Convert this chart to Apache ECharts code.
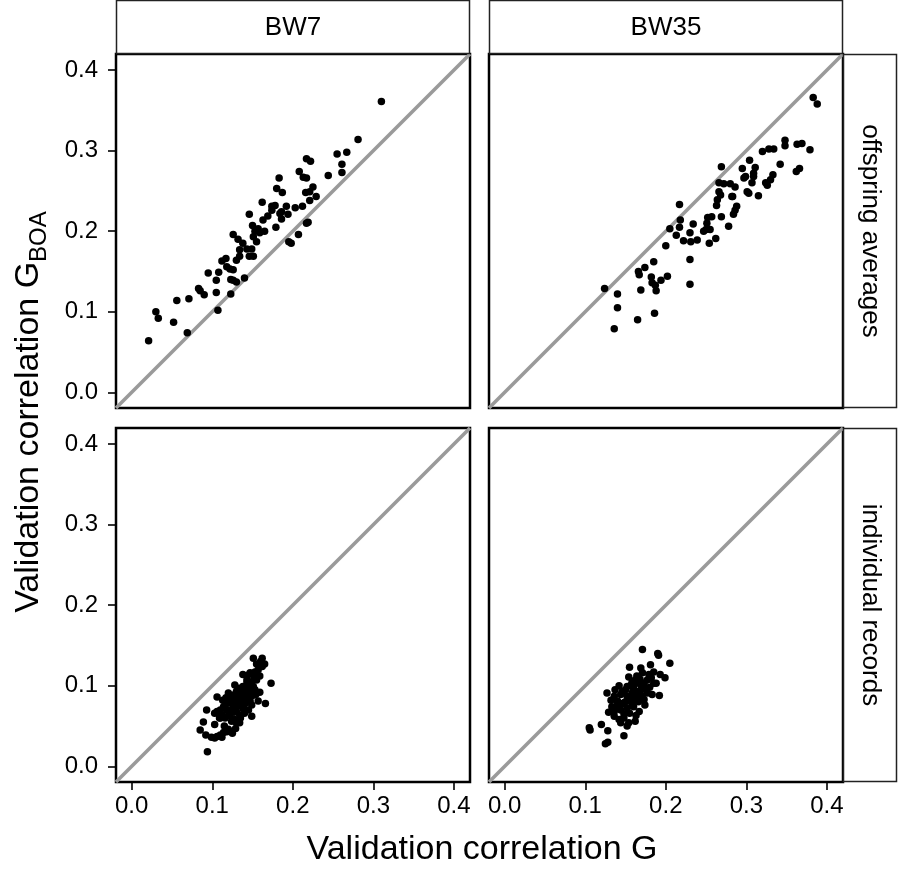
<!DOCTYPE html>
<html><head><meta charset="utf-8">
<script src="https://cdn.jsdelivr.net/npm/echarts@6/dist/echarts.min.js"></script>
<style>html,body{margin:0;padding:0;background:#fff}#c{width:898px;height:870px}</style>
</head><body><div id="c"></div><script>
// ---- data ----
const columnLabels = ['BW7', 'BW35'];
const rowLabels = ['offspring averages', 'individual records'];
const tickValues = [0.0, 0.1, 0.2, 0.3, 0.4];
const axisMin = -0.0195, axisMax = 0.42;
const xTitle = 'Validation correlation G';
const yTitleMain = 'Validation correlation G';
const yTitleSub = 'BOA';

const bw7Offspring = [
[0.310,0.361],[0.281,0.314],[0.255,0.296],[0.267,0.298],[0.261,0.283],[0.261,0.273],[0.244,0.269],
[0.217,0.290],[0.222,0.287],[0.208,0.274],[0.213,0.267],[0.217,0.266],[0.183,0.266],[0.180,0.253],
[0.187,0.248],[0.225,0.255],[0.216,0.248],[0.221,0.249],[0.229,0.243],[0.221,0.238],[0.203,0.229],
[0.212,0.231],[0.162,0.236],[0.174,0.231],[0.178,0.232],[0.192,0.231],[0.186,0.224],[0.194,0.221],
[0.146,0.221],[0.169,0.219],[0.163,0.214],[0.186,0.215],[0.179,0.205],[0.150,0.207],[0.157,0.203],
[0.153,0.200],[0.165,0.200],[0.159,0.198],[0.151,0.193],[0.155,0.187],[0.126,0.196],[0.132,0.190],
[0.138,0.185],[0.134,0.177],[0.143,0.178],[0.149,0.178],[0.146,0.169],[0.151,0.169],[0.134,0.169],
[0.130,0.164],[0.117,0.166],[0.112,0.163],[0.118,0.156],[0.122,0.153],[0.126,0.152],[0.108,0.149],
[0.095,0.148],[0.105,0.139],[0.123,0.140],[0.126,0.139],[0.130,0.137],[0.140,0.142],[0.083,0.129],
[0.085,0.126],[0.090,0.121],[0.105,0.124],[0.123,0.122],[0.071,0.116],[0.056,0.114],[0.107,0.102],
[0.030,0.100],[0.033,0.092],[0.052,0.087],[0.069,0.074],[0.021,0.064],[0.195,0.187],[0.198,0.185],
[0.207,0.196],[0.217,0.210],[0.219,0.211],[0.174,0.226],[0.184,0.222]
];
const bw35Offspring = [
[0.383,0.366],[0.388,0.358],[0.348,0.313],[0.348,0.306],[0.363,0.308],[0.369,0.309],[0.379,0.301],
[0.334,0.302],[0.328,0.302],[0.320,0.299],[0.342,0.283],[0.366,0.278],[0.362,0.274],[0.304,0.288],
[0.311,0.279],[0.295,0.278],[0.269,0.280],[0.299,0.268],[0.309,0.268],[0.307,0.260],[0.333,0.270],
[0.330,0.264],[0.324,0.260],[0.326,0.257],[0.315,0.244],[0.301,0.249],[0.303,0.247],[0.266,0.260],
[0.272,0.259],[0.280,0.259],[0.286,0.255],[0.283,0.243],[0.268,0.245],[0.264,0.239],[0.263,0.232],
[0.288,0.231],[0.286,0.226],[0.284,0.221],[0.269,0.218],[0.257,0.218],[0.252,0.217],[0.217,0.233],
[0.218,0.214],[0.205,0.203],[0.217,0.205],[0.213,0.195],[0.234,0.209],[0.230,0.198],[0.222,0.188],
[0.231,0.187],[0.239,0.189],[0.247,0.200],[0.255,0.202],[0.262,0.191],[0.254,0.185],[0.278,0.206],
[0.200,0.182],[0.230,0.165],[0.185,0.162],[0.174,0.155],[0.166,0.150],[0.167,0.146],[0.182,0.143],
[0.202,0.144],[0.194,0.139],[0.183,0.136],[0.187,0.133],[0.188,0.126],[0.169,0.127],[0.124,0.129],
[0.140,0.122],[0.230,0.134],[0.140,0.105],[0.186,0.098],[0.165,0.090],[0.136,0.079],[0.251,0.210],
[0.250,0.202],[0.266,0.249],[0.309,0.272],[0.297,0.266],[0.282,0.243]
];
const bw7Individual = [
[0.094,0.018],[0.085,0.045],[0.089,0.055],[0.093,0.070],[0.092,0.039],[0.099,0.036],[0.103,0.035],
[0.106,0.037],[0.110,0.039],[0.114,0.042],[0.118,0.043],[0.125,0.041],[0.103,0.052],[0.106,0.068],
[0.109,0.060],[0.112,0.064],[0.116,0.060],[0.118,0.070],[0.122,0.070],[0.124,0.056],[0.128,0.058],
[0.130,0.054],[0.134,0.054],[0.103,0.066],[0.106,0.086],[0.117,0.085],[0.121,0.083],[0.124,0.079],
[0.128,0.089],[0.130,0.093],[0.128,0.101],[0.132,0.097],[0.134,0.087],[0.136,0.079],[0.138,0.072],
[0.140,0.083],[0.138,0.091],[0.143,0.095],[0.145,0.087],[0.147,0.081],[0.149,0.076],[0.149,0.062],
[0.151,0.099],[0.154,0.089],[0.157,0.081],[0.153,0.095],[0.143,0.107],[0.138,0.114],[0.147,0.116],
[0.153,0.117],[0.159,0.112],[0.151,0.134],[0.162,0.134],[0.165,0.127],[0.162,0.124],[0.173,0.103],
[0.159,0.092],[0.166,0.078],[0.145,0.070],[0.140,0.066],[0.134,0.064],[0.130,0.068],[0.126,0.074],
[0.122,0.064],[0.114,0.074],[0.110,0.070],[0.155,0.127],[0.149,0.105],[0.143,0.103],[0.133,0.078],
[0.120,0.091],[0.126,0.085],[0.134,0.083],[0.145,0.099],[0.138,0.099],[0.155,0.107],[0.130,0.079],
[0.118,0.078],[0.113,0.082],[0.110,0.060],[0.115,0.050],[0.120,0.063],[0.127,0.067],[0.131,0.075],
[0.136,0.090],[0.142,0.092],[0.146,0.094],[0.150,0.088],[0.152,0.110],[0.144,0.113],[0.157,0.120],
[0.160,0.130],[0.141,0.078],[0.135,0.060],[0.129,0.047],[0.120,0.046],[0.112,0.036]
];
const bw35Individual = [
[0.171,0.145],[0.190,0.140],[0.191,0.138],[0.205,0.128],[0.181,0.126],[0.155,0.123],[0.169,0.122],
[0.185,0.117],[0.193,0.114],[0.199,0.110],[0.154,0.111],[0.164,0.112],[0.177,0.107],[0.173,0.103],
[0.185,0.103],[0.142,0.100],[0.152,0.099],[0.160,0.097],[0.169,0.095],[0.177,0.091],[0.183,0.089],
[0.192,0.088],[0.127,0.091],[0.136,0.087],[0.144,0.089],[0.152,0.087],[0.160,0.085],[0.173,0.083],
[0.133,0.074],[0.129,0.067],[0.136,0.068],[0.144,0.070],[0.152,0.072],[0.160,0.074],[0.167,0.068],
[0.142,0.058],[0.148,0.060],[0.154,0.054],[0.162,0.056],[0.144,0.054],[0.105,0.048],[0.106,0.045],
[0.120,0.052],[0.128,0.044],[0.148,0.038],[0.125,0.028],[0.128,0.030],[0.156,0.081],[0.148,0.079],
[0.140,0.081],[0.164,0.103],[0.162,0.107],[0.158,0.091],[0.171,0.116],[0.179,0.114],[0.136,0.062],
[0.150,0.095],[0.156,0.100],[0.163,0.093],[0.170,0.100],[0.175,0.097],[0.166,0.085],[0.158,0.078],
[0.150,0.080],[0.145,0.077],[0.139,0.075],[0.155,0.066],[0.163,0.063],[0.148,0.065],[0.170,0.088],
[0.180,0.098],[0.188,0.103],[0.182,0.110],[0.168,0.108],[0.158,0.104],[0.146,0.093],[0.137,0.095],
[0.132,0.082],[0.152,0.050],[0.166,0.080],[0.174,0.076]
];
const panelData = [bw7Offspring, bw35Offspring, bw7Individual, bw35Individual];

// ---- layout ----
const FONT = 'Liberation Sans, Arial, sans-serif';
const gridLefts = [116, 489];
const gridTops = [54, 428];
const G = 354;
const grids = [], xAxes = [], yAxes = [], series = [];
for (let r = 0; r < 2; r++) {
  for (let c = 0; c < 2; c++) {
    const i = r * 2 + c;
    grids.push({left: gridLefts[c], top: gridTops[r], width: G, height: G, show: true,
      borderColor: '#000', borderWidth: 2.5, backgroundColor: '#fff', containLabel: false});
    const showX = r === 1, showY = c === 0;
    xAxes.push({type: 'value', gridIndex: i, min: axisMin, max: axisMax, position: 'bottom',
      splitLine: {show: false}, axisLine: {show: false, onZero: false},
      axisTick: {show: showX, length: 8, customValues: tickValues, lineStyle: {color: '#000', width: 1.6}},
      axisLabel: {show: showX, customValues: tickValues, formatter: v => v.toFixed(1),
        fontSize: 24, color: '#000', fontFamily: FONT, margin: 12}});
    yAxes.push({type: 'value', gridIndex: i, min: axisMin, max: axisMax, position: 'left',
      splitLine: {show: false}, axisLine: {show: false, onZero: false},
      axisTick: {show: showY, length: 8, customValues: tickValues, lineStyle: {color: '#000', width: 1.6}},
      axisLabel: {show: showY, customValues: tickValues, formatter: v => v.toFixed(1),
        fontSize: 24, color: '#000', fontFamily: FONT, margin: 18}});
    series.push({type: 'line', xAxisIndex: i, yAxisIndex: i, data: [[axisMin, axisMin], [axisMax, axisMax]],
      symbol: 'none', lineStyle: {color: '#9a9a9a', width: 3.5}, z: 2, silent: true, animation: false});
    series.push({type: 'scatter', xAxisIndex: i, yAxisIndex: i, data: panelData[i],
      symbol: 'circle', symbolSize: 7.5, itemStyle: {color: '#000', opacity: 1}, z: 3, animation: false});
  }
}

const graphic = [];
// top strips
for (let c = 0; c < 2; c++) {
  graphic.push({type: 'rect', shape: {x: gridLefts[c] + 0.5, y: 0.5, width: G - 1, height: 53},
    style: {fill: '#fff', stroke: '#222', lineWidth: 1.5}, z: 10});
  graphic.push({type: 'text', x: gridLefts[c] + G / 2, y: 28,
    style: {text: columnLabels[c], fill: '#000', font: '26px ' + FONT, textAlign: 'center', textVerticalAlign: 'middle'}, z: 11});
}
// right strips
for (let r = 0; r < 2; r++) {
  graphic.push({type: 'rect', shape: {x: 843.5, y: gridTops[r] + 0.5, width: 53, height: G - 1},
    style: {fill: '#fff', stroke: '#222', lineWidth: 1.5}, z: 10});
  graphic.push({type: 'text', x: 870, y: gridTops[r] + G / 2, rotation: -Math.PI / 2,
    style: {text: rowLabels[r], fill: '#000', font: '26px ' + FONT, textAlign: 'center', textVerticalAlign: 'middle'}, z: 11});
}
// axis titles
graphic.push({type: 'text', x: 482, y: 850,
  style: {text: xTitle, fill: '#000', font: '34px ' + FONT, textAlign: 'center', textVerticalAlign: 'middle'}, z: 11});
graphic.push({type: 'text', x: 29, y: 412, rotation: Math.PI / 2,
  style: {text: '{a|' + yTitleMain + '}{b|' + yTitleSub + '}', textAlign: 'center', textVerticalAlign: 'middle',
    rich: {a: {fontSize: 34, fontFamily: FONT, fill: '#000', lineHeight: 44, verticalAlign: 'middle'},
           b: {fontSize: 24, fontFamily: FONT, fill: '#000', lineHeight: 24, verticalAlign: 'bottom'}}}, z: 11});

const chart = echarts.init(document.getElementById('c'), null, {renderer: 'canvas'});
chart.setOption({animation: false, backgroundColor: '#fff', grid: grids, xAxis: xAxes, yAxis: yAxes, series, graphic});
</script></body></html>
